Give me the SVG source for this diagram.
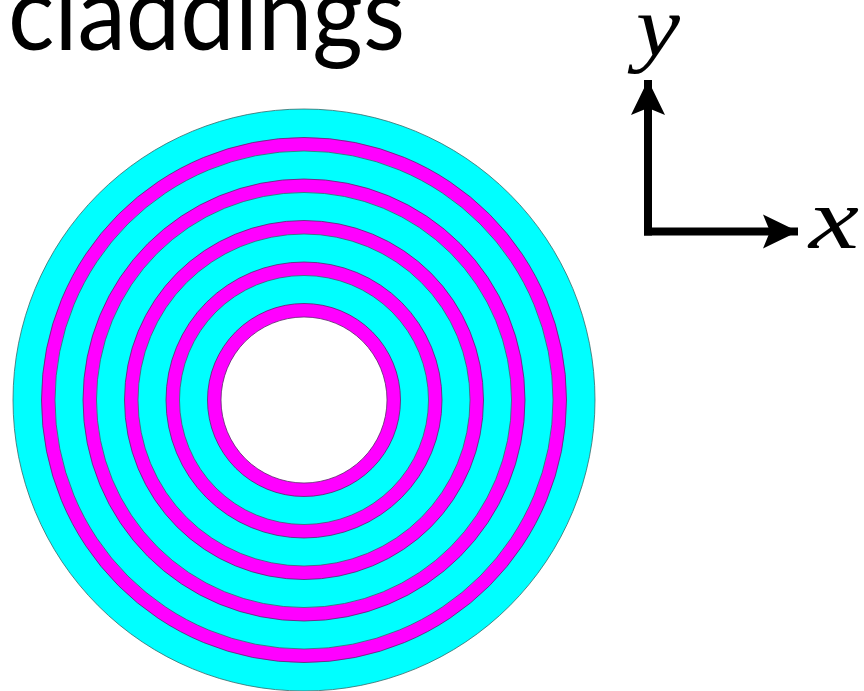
<svg xmlns="http://www.w3.org/2000/svg" width="864" height="691" viewBox="0 0 864 691">
<style>
.c{fill:#00ffff;stroke:#3a6a6a;stroke-width:0.8}
.m{fill:#ff00ff;stroke:#5a2a6a;stroke-width:0.8}
.w{fill:#ffffff;stroke:#5a2a6a;stroke-width:0.8}
.ax{stroke:#000;stroke-width:8;fill:none}
.lab{font-family:"Liberation Serif",serif;font-style:italic;font-size:86px;fill:#000}
</style>
<defs>
<marker id="ah" markerUnits="userSpaceOnUse" markerWidth="36" markerHeight="36" refX="35" refY="17" orient="auto" viewBox="0 0 36 34">
<path d="M0,0 L35,17 L0,34 L7,17 Z" fill="#000"/>
</marker>
</defs>
<rect width="864" height="691" fill="#fff"/>
<text x="8" y="50" font-family="Lato,'Open Sans',sans-serif" font-size="104" textLength="397" lengthAdjust="spacingAndGlyphs" fill="#000">claddings</text>
<g id="fiber">
<circle class="c" cx="304" cy="400" r="291"/>
<circle class="m" cx="304" cy="400" r="262.5"/>
<circle class="c" cx="304" cy="400" r="249"/>
<circle class="m" cx="304" cy="400" r="221"/>
<circle class="c" cx="304" cy="400" r="207.5"/>
<circle class="m" cx="304" cy="400" r="179.5"/>
<circle class="c" cx="304" cy="400" r="166"/>
<circle class="m" cx="304" cy="400" r="138"/>
<circle class="c" cx="304" cy="400" r="124.5"/>
<circle class="m" cx="304" cy="400" r="96.5"/>
<circle class="w" cx="304" cy="400" r="83"/>
</g>
<g id="axes">
<path class="ax" d="M648,235.5 L648,80" marker-end="url(#ah)"/>
<path class="ax" d="M644,231.5 L798,231.5" marker-end="url(#ah)"/>
<text class="lab" x="636" y="55" textLength="44" lengthAdjust="spacingAndGlyphs">y</text>
<text class="lab" x="809" y="248" textLength="50" lengthAdjust="spacingAndGlyphs">x</text>
</g>
</svg>
